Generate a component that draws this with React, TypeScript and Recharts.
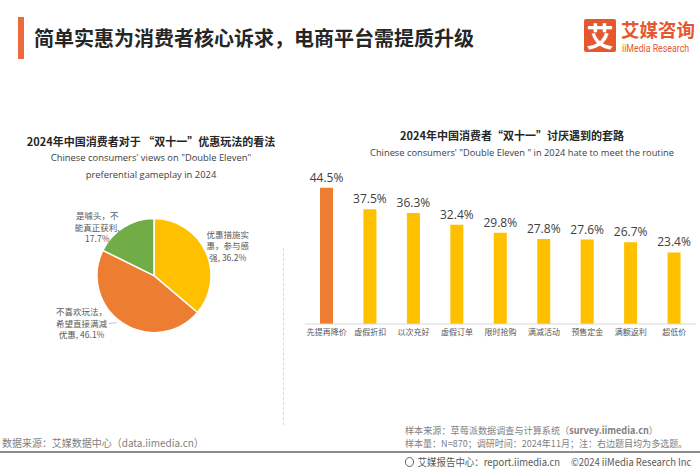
import { PieChart, Pie, Cell, BarChart, Bar, XAxis, YAxis, LabelList } from "recharts"

const CJK = "'Noto Sans CJK SC', 'Noto Sans', sans-serif"
const LATIN = "'Open Sans', 'Noto Sans CJK SC', sans-serif"

// pie: views on double-eleven gameplay
const pieNames = ["优惠措施实惠，参与感强", "不喜欢玩法，希望直接满减优惠", "是噱头，不能真正获利"]
const pieValues = [36.2, 46.1, 17.7]
const pieColors = ["#FFC000", "#ED7D31", "#70AD47"]
const pieLabelLines = [
  ["优惠措施实", "惠，参与感", "强, 36.2%"],
  ["不喜欢玩法，", "希望直接满减", "优惠, 46.1%"],
  ["是噱头，不", "能真正获利,", "17.7%"],
]
const pieLabelNudge = [
  [2, 3],
  [-29, -19],
  [-15, 18],
]

// bars: routines consumers hate
const routines = ["先提再降价", "虚假折扣", "以次充好", "虚假订单", "限时抢购", "满减活动", "预售定金", "满额返利", "超低价"]
const routineShares = [44.5, 37.5, 36.3, 32.4, 29.8, 27.8, 27.6, 26.7, 23.4]

const pieData = pieNames.map((name, i) => ({ name, value: pieValues[i] }))
const barData = routines.map((name, i) => ({ name, value: routineShares[i] }))

const RAD = Math.PI / 180

function PieLabel(props: any) {
  const { cx, cy, midAngle, outerRadius, index } = props
  const r = outerRadius + 22
  const [nx, ny] = pieLabelNudge[index]
  const x = cx + r * Math.cos(-midAngle * RAD) + nx
  const y = cy + r * Math.sin(-midAngle * RAD) + ny
  const lines = pieLabelLines[index]
  return (
    <g>
      {lines.map((l, i) => (
        <text
          key={i}
          x={x}
          y={y + (i - 1) * 11.5}
          dominantBaseline="central"
          textAnchor="middle"
          fontSize={8.5}
          fill="#595959"
          fontFamily={CJK}
        >
          {l}
        </text>
      ))}
      {index === 1 && (
        <line x1={x + 27} y1={y + 1} x2={x + 35} y2={y} stroke="#A6A6A6" strokeWidth={0.7} />
      )}
    </g>
  )
}

const abs = (left: number, top: number, extra: any = {}) => ({
  position: "absolute" as const,
  left,
  top,
  whiteSpace: "nowrap" as const,
  ...extra,
})

// narrow footer lettering, squeezed horizontally like the original
const squeeze = (k: number) => ({ transform: `scaleX(${k})`, transformOrigin: "left center" })

export default function App() {
  return (
    <div style={{ position: "absolute", left: 0, top: 0, width: 700, height: 470, background: "#fff", overflow: "hidden", fontFamily: CJK }}>
      {/* header */}
      <div style={abs(18, 17, { width: 6, height: 42, background: "#EC6A3C" })} />
      <div style={abs(34, 24, { fontSize: 20, fontWeight: 700, color: "#262626", lineHeight: "28px" })}>
        简单实惠为消费者核心诉求，电商平台需提质升级
      </div>
      <div style={abs(584, 19, { width: 32, height: 33, background: "#E5582F", borderRadius: 2, color: "#fff", fontSize: 27, fontWeight: 700, lineHeight: "33px", textAlign: "center" })}>
        艾
      </div>
      <div style={abs(621, 19, { fontSize: 18.5, fontWeight: 700, color: "#E5582F", lineHeight: "21px" })}>艾媒咨询</div>
      <div style={abs(622, 44, { fontSize: 10, color: "#E5582F", lineHeight: "9px", fontFamily: "'Roboto', sans-serif", ...squeeze(0.88) })}>
        iiMedia Research
      </div>

      {/* pie titles */}
      <div style={abs(0, 132, { width: 302, textAlign: "center", fontSize: 11, fontWeight: 700, color: "#262626", lineHeight: "18px" })}>
        2024年中国消费者对于 “双十一”优惠玩法的看法
      </div>
      <div style={abs(0, 149, { width: 302, textAlign: "center", fontSize: 9.4, color: "#404040", lineHeight: "17px", fontFamily: LATIN })}>
        Chinese consumers' views on "Double Eleven"
        <br />
        preferential gameplay in 2024
      </div>

      <div style={abs(0, 190)}>
        <PieChart width={280} height={230}>
          <Pie
            data={pieData}
            dataKey="value"
            cx={149}
            cy={80.6}
            outerRadius={57}
            startAngle={90}
            endAngle={-270}
            stroke="#fff"
            strokeWidth={1.5}
            label={PieLabel}
            labelLine={false}
            isAnimationActive={false}
          >
            {pieData.map((d, i) => (
              <Cell key={d.name} fill={pieColors[i]} />
            ))}
          </Pie>
        </PieChart>
      </div>

      {/* separator */}
      <div style={abs(283, 248, { height: 177, borderLeft: "1px dashed #D9D9D9" })} />

      {/* bar titles */}
      <div style={abs(400, 126, { width: 220, textAlign: "center", fontSize: 11, fontWeight: 700, color: "#262626", lineHeight: "18px" })}>
        2024年中国消费者“双十一”讨厌遇到的套路
      </div>
      <div style={abs(352, 144, { width: 340, textAlign: "center", fontSize: 9.3, color: "#404040", lineHeight: "17px", fontFamily: LATIN })}>
        Chinese consumers' "Double Eleven " in 2024 hate to meet the routine
      </div>

      <div style={abs(290, 120)}>
        <BarChart width={410} height={230} data={barData} margin={{ top: 51, right: 4, left: 15, bottom: 6 }}>
          <XAxis
            dataKey="name"
            height={20}
            interval={0}
            axisLine={{ stroke: "#D9D9D9" }}
            tickLine={false}
            tickSize={0}
            tickMargin={5}
            tick={{ fontSize: 8, fill: "#595959", fontFamily: CJK }}
          />
          <YAxis hide domain={[0, 50]} />
          <Bar dataKey="value" barSize={13} isAnimationActive={false}>
            {barData.map((d, i) => (
              <Cell key={d.name} fill={i === 0 ? "#ED7D31" : "#FFC000"} />
            ))}
            <LabelList
              dataKey="value"
              position="top"
              offset={6}
              formatter={(v: any) => `${v}%`}
              style={{ fontSize: 12, fill: "#404040", fontFamily: LATIN }}
            />
          </Bar>
        </BarChart>
      </div>

      {/* footer */}
      <div style={abs(2, 436, { fontSize: 10.5, color: "#7F7F7F", lineHeight: "14px", ...squeeze(0.95) })}>
        数据来源：艾媒数据中心（data.iimedia.cn）
      </div>
      <div style={abs(405, 425, { fontSize: 9.5, color: "#7F7F7F", lineHeight: "11px", ...squeeze(0.96) })}>
        样本来源：草莓派数据调查与计算系统（<b>survey.iimedia.cn</b>）
      </div>
      <div style={abs(405, 438, { fontSize: 9.5, color: "#7F7F7F", lineHeight: "11px", ...squeeze(0.95) })}>
        样本量：N=870；调研时间：2024年11月；注：右边题目均为多选题。
      </div>
      <div style={abs(0, 451, { width: 700, height: 2, background: "#8C8C8C" })} />
      <div style={abs(405, 455, { fontSize: 10.5, color: "#595959", lineHeight: "14px", ...squeeze(0.9) })}>
        <span style={{ display: "inline-block", width: 10, height: 10, border: "1px solid #595959", borderRadius: "50%", marginRight: 4, verticalAlign: "-1px", boxSizing: "border-box" }} />
        艾媒报告中心：report.iimedia.cn
        <span style={{ marginLeft: 12 }}>©2024 iiMedia Research Inc</span>
      </div>
    </div>
  )
}
